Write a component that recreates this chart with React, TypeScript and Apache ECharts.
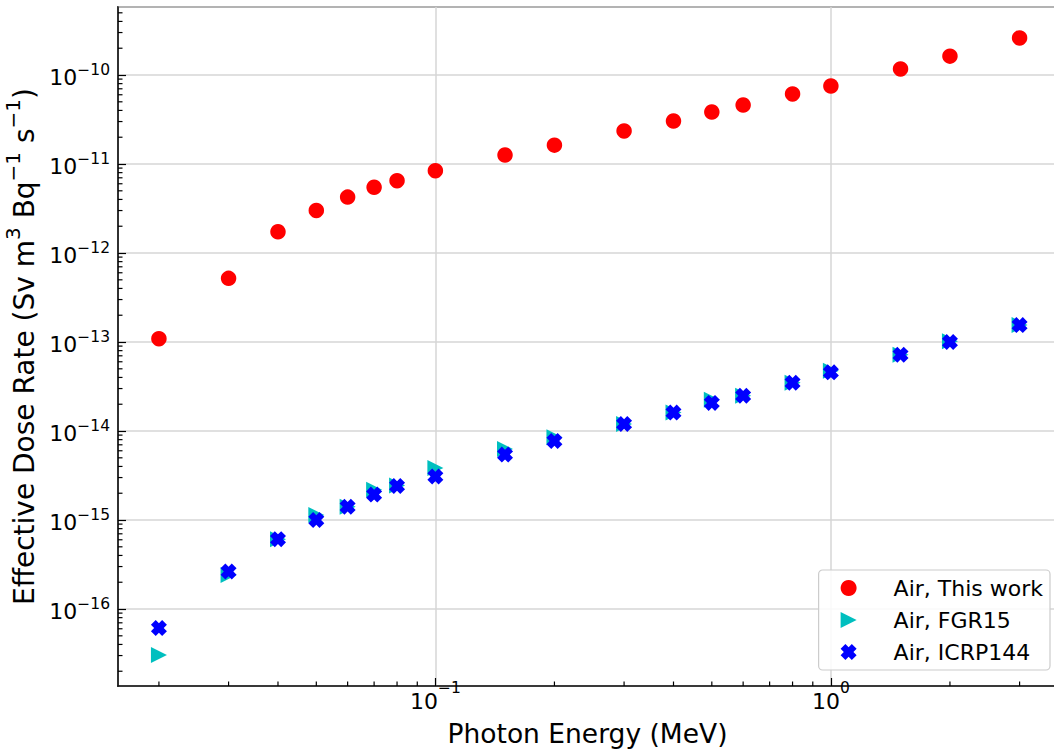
import React, { useEffect, useRef } from 'react';
import * as echarts from 'echarts';

// ---- data ----
const energies = [0.02, 0.03, 0.04, 0.05, 0.06, 0.07, 0.08, 0.1, 0.15, 0.2, 0.3, 0.4, 0.5, 0.6, 0.8, 1, 1.5, 2, 3];
const airThisWork = [1.09e-13, 5.19e-13, 1.73e-12, 3.01e-12, 4.25e-12, 5.48e-12, 6.49e-12, 8.41e-12, 1.26e-11, 1.63e-11, 2.35e-11, 3.04e-11, 3.84e-11, 4.6e-11, 6.12e-11, 7.52e-11, 1.17e-10, 1.63e-10, 2.61e-10];
const airFGR15 = [3.04e-17, 2.41e-16, 6.1e-16, 1.14e-15, 1.41e-15, 2.19e-15, 2.45e-15, 3.84e-15, 6.28e-15, 8.49e-15, 1.2e-14, 1.61e-14, 2.25e-14, 2.49e-14, 3.49e-14, 4.75e-14, 7.2e-14, 1.02e-13, 1.55e-13];
const airICRP144 = [6.12e-17, 2.64e-16, 6.1e-16, 1.0e-15, 1.41e-15, 1.93e-15, 2.41e-15, 3.08e-15, 5.43e-15, 7.72e-15, 1.2e-14, 1.61e-14, 2.07e-14, 2.49e-14, 3.49e-14, 4.56e-14, 7.2e-14, 1.0e-13, 1.55e-13];

const seriesNames = ['Air, This work', 'Air, FGR15', 'Air, ICRP144'];
const xTitle = 'Photon Energy (MeV)';

// axis ranges and minor tick helpers
const X_MIN = 0.01576;
const X_MAX = 3.73;
const Y_MIN = 1.365e-17;
const Y_MAX = 5.81e-10;
const minorMultipliers = [2, 3, 4, 5, 6, 7, 8, 9];
const xDecades = [0.01, 0.1, 1];
const yDecades = [1e-17, 1e-16, 1e-15, 1e-14, 1e-13, 1e-12, 1e-11, 1e-10];

const FONT = 'DejaVu Sans';
const TRI = 'path://M0,0L10,5L0,10Z';
const XSYM = 'path://M3,0L5,2L7,0L10,3L8,5L10,7L7,10L5,8L3,10L0,7L2,5L0,3Z';

const supText = (n: number) => (n < 0 ? '\u2212' + Math.abs(n) : String(n));
const tickFmt = (v: number) => {
  const l = Math.log10(v);
  const e = Math.round(l);
  if (Math.abs(l - e) > 1e-6) return '';
  return `{b|10}{s|${supText(e)}}`;
};
const makeRich = (lh: number) => ({
  b: { fontFamily: FONT, fontSize: 22, lineHeight: lh, verticalAlign: 'bottom', color: '#000' },
  s: { fontFamily: FONT, fontSize: 15.5, lineHeight: lh, verticalAlign: 'top', color: '#000' },
});

export default function App() {
  const ref = useRef<HTMLDivElement>(null);
  useEffect(() => {
    document.body.style.margin = '0';
    const chart = echarts.init(ref.current!, null, { renderer: 'svg' });
    const xMinor: number[][] = [];
    xDecades.forEach((d) => minorMultipliers.forEach((m) => {
      const v = d * m;
      if (v > X_MIN && v < X_MAX) xMinor.push([v, Y_MIN]);
    }));
    const yMinor: number[][] = [];
    yDecades.forEach((d) => minorMultipliers.forEach((m) => {
      const v = d * m;
      if (v > Y_MIN && v < Y_MAX) yMinor.push([X_MIN, v]);
    }));
    const minorTick = (dir: 'x' | 'y') => (params: any, api: any) => {
      const p = api.coord([api.value(0), api.value(1)]);
      return {
        type: 'line',
        shape: dir === 'x'
          ? { x1: p[0], y1: p[1], x2: p[0], y2: p[1] - 4.5 }
          : { x1: p[0], y1: p[1], x2: p[0] + 4.5, y2: p[1] },
        style: { stroke: '#000', lineWidth: 1.2 },
      };
    };
    chart.setOption({
      animation: false,
      backgroundColor: '#fff',
      grid: {
        left: 118, right: -3, top: 7, bottom: 69,
        containLabel: false,
        outerBoundsMode: 'none',
        show: true, borderColor: '#111', borderWidth: 1.6, backgroundColor: 'transparent',
      },
      legend: {
        orient: 'vertical',
        right: 4,
        bottom: 85,
        data: [
          { name: seriesNames[0], icon: 'circle' },
          { name: seriesNames[1], icon: TRI },
          { name: seriesNames[2], icon: XSYM },
        ],
        itemWidth: 16,
        itemHeight: 16,
        itemGap: 6,
        padding: [5, 7, 5, 22],
        backgroundColor: 'rgba(255,255,255,0.85)',
        borderColor: '#cccccc',
        borderWidth: 1.2,
        borderRadius: 4,
        textStyle: { fontFamily: FONT, fontSize: 22, lineHeight: 26, color: '#000', padding: [0, 0, 0, 32] },
      },
      xAxis: {
        type: 'log',
        min: X_MIN,
        max: X_MAX,
        name: xTitle,
        nameLocation: 'middle',
        nameGap: 34,
        nameTextStyle: { fontFamily: FONT, fontSize: 26.5, color: '#000' },
        axisLine: { show: true, onZero: false, lineStyle: { color: '#111', width: 1.6 } },
        axisTick: { show: true, inside: true, length: 8, lineStyle: { color: '#000', width: 1.2 } },
        axisLabel: { formatter: tickFmt, rich: makeRich(32), margin: -6, showMinLabel: false, showMaxLabel: false },
        splitLine: { show: true, lineStyle: { color: '#d6d6d6', width: 1.5 } },
      },
      yAxis: {
        type: 'log',
        min: Y_MIN,
        max: Y_MAX,
        name: '{a|Effective Dose Rate (Sv m}{s|3}{a| Bq}{s|\u22121}{a| s}{s|\u22121}{a|)}',
        nameLocation: 'middle',
        nameGap: 72,
        nameTextStyle: {
          fontFamily: FONT,
          fontSize: 28,
          color: '#000',
          rich: {
            a: { fontFamily: FONT, fontSize: 28, lineHeight: 35, verticalAlign: 'bottom', color: '#000' },
            s: { fontFamily: FONT, fontSize: 20, lineHeight: 35, verticalAlign: 'top', color: '#000' },
          },
        },
        axisLine: { show: true, lineStyle: { color: '#111', width: 1.6 } },
        axisTick: { show: true, inside: true, length: 8, lineStyle: { color: '#000', width: 1.2 } },
        axisLabel: { formatter: tickFmt, rich: makeRich(26), margin: 8, showMinLabel: false, showMaxLabel: false },
        splitLine: { show: true, lineStyle: { color: '#d6d6d6', width: 1.5 } },
      },
      series: [
        {
          name: seriesNames[0],
          type: 'scatter',
          symbol: 'circle',
          symbolSize: 15.5,
          itemStyle: { color: '#ff0000', opacity: 1 },
          data: energies.map((e, i) => [e, airThisWork[i]]),
          z: 3,
        },
        {
          name: seriesNames[1],
          type: 'scatter',
          symbol: TRI,
          symbolSize: 16,
          itemStyle: { color: '#00bfbf', opacity: 1 },
          data: energies.map((e, i) => [e, airFGR15[i]]),
          z: 4,
        },
        {
          name: seriesNames[2],
          type: 'scatter',
          symbol: XSYM,
          symbolSize: 16,
          itemStyle: { color: '#0000ff', opacity: 1 },
          data: energies.map((e, i) => [e, airICRP144[i]]),
          z: 5,
        },
        { type: 'custom', renderItem: minorTick('x'), data: xMinor, clip: false, silent: true, z: 6 },
        { type: 'custom', renderItem: minorTick('y'), data: yMinor, clip: false, silent: true, z: 6 },
      ],
    });
    return () => chart.dispose();
  }, []);
  return <div ref={ref} style={{ position: 'absolute', left: 0, top: 0, width: 1054, height: 755 }} />;
}
